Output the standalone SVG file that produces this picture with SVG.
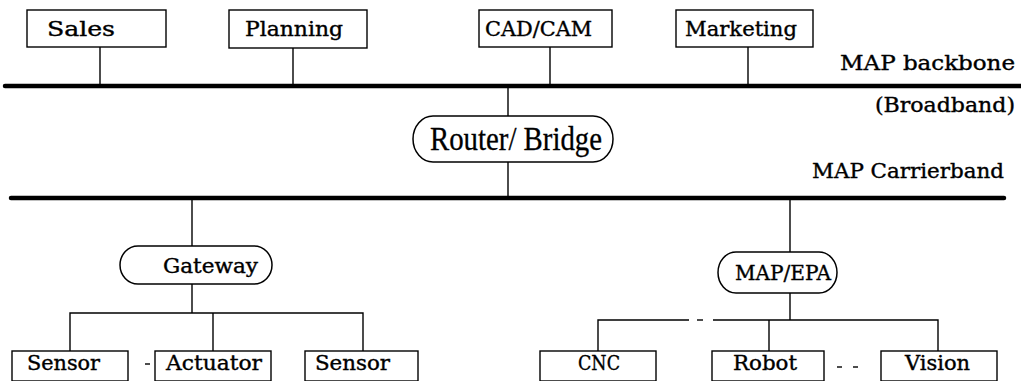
<svg xmlns="http://www.w3.org/2000/svg" width="1021" height="381" viewBox="0 0 1021 381">
<style>
.box{fill:#fff;stroke:#000;stroke-width:1.4}
.pill{fill:#fff;stroke:#000;stroke-width:1.5}
.ln{stroke:#000;stroke-width:1.4;fill:none}
.bus{stroke:#000;stroke-width:4.5;stroke-linecap:round;fill:none}
.t{font-family:"DejaVu Serif Condensed","DejaVu Serif","Liberation Serif",serif;font-size:20.5px;fill:#000;stroke:#000;stroke-width:0.35}
.r{font-family:"Liberation Serif","Times New Roman",serif;font-size:33px;fill:#000;stroke:#000;stroke-width:0.3}
</style>
<rect width="1021" height="381" fill="#fff"/>
<g id="connectors">
<line class="bus" x1="5" y1="86" x2="1025" y2="86"/>
<line class="bus" x1="11" y1="198" x2="1004" y2="198"/>
<line class="ln" x1="100" y1="47" x2="100" y2="86"/>
<line class="ln" x1="293" y1="48" x2="293" y2="86"/>
<line class="ln" x1="550" y1="47" x2="550" y2="86"/>
<line class="ln" x1="748" y1="47" x2="748" y2="86"/>
<line class="ln" x1="508" y1="86" x2="508" y2="116"/>
<line class="ln" x1="508" y1="162" x2="508" y2="198"/>
<line class="ln" x1="192" y1="198" x2="192" y2="246"/>
<line class="ln" x1="192" y1="284" x2="192" y2="313"/>
<polyline class="ln" points="70,351 70,313 363,313 363,351"/>
<line class="ln" x1="213" y1="313" x2="213" y2="351"/>
<line class="ln" x1="790" y1="198" x2="790" y2="252"/>
<line class="ln" x1="790" y1="293" x2="790" y2="320"/>
<polyline class="ln" points="598,351 598,320 689,320"/>
<line class="ln" x1="697" y1="320" x2="703" y2="320"/>
<polyline class="ln" points="713,320 938,320 938,351"/>
<line class="ln" x1="769" y1="320" x2="769" y2="351"/>
<line class="ln" x1="145" y1="364" x2="150" y2="364"/>
<line class="ln" x1="837" y1="367" x2="842" y2="367"/>
<line class="ln" x1="853" y1="367" x2="858" y2="367"/>
</g>
<g id="sales"><rect class="box" x="27" y="10" width="139" height="37"/><text class="t" x="47" y="36" textLength="68" lengthAdjust="spacingAndGlyphs">Sales</text></g>
<g id="planning"><rect class="box" x="229" y="10" width="138" height="38"/><text class="t" x="245" y="36" textLength="98" lengthAdjust="spacingAndGlyphs">Planning</text></g>
<g id="cadcam"><rect class="box" x="479" y="10" width="133" height="37"/><text class="t" x="485" y="36" textLength="107" lengthAdjust="spacingAndGlyphs">CAD/CAM</text></g>
<g id="marketing"><rect class="box" x="676" y="10" width="137" height="37"/><text class="t" x="685" y="36" textLength="112" lengthAdjust="spacingAndGlyphs">Marketing</text></g>
<g id="labels">
<text class="t" x="840" y="70" textLength="175" lengthAdjust="spacingAndGlyphs">MAP backbone</text>
<text class="t" x="875" y="112" textLength="140" lengthAdjust="spacingAndGlyphs">(Broadband)</text>
<text class="t" x="812" y="178" textLength="192" lengthAdjust="spacingAndGlyphs">MAP Carrierband</text>
</g>
<g id="router"><rect class="pill" x="413" y="116" width="200" height="46" rx="20" ry="23"/><text class="r" x="430" y="150" textLength="172" lengthAdjust="spacingAndGlyphs">Router/ Bridge</text></g>
<g id="gateway"><rect class="pill" x="120" y="246" width="152" height="38" rx="18" ry="19"/><text class="t" x="163" y="273" textLength="95" lengthAdjust="spacingAndGlyphs">Gateway</text></g>
<g id="mapepa"><rect class="pill" x="718" y="252" width="119" height="41" rx="18" ry="20.5"/><text class="t" x="735" y="280" textLength="96" lengthAdjust="spacingAndGlyphs">MAP/EPA</text></g>
<g id="sensor1"><rect class="box" x="12" y="351" width="116" height="30"/><text class="t" x="27" y="370" textLength="73" lengthAdjust="spacingAndGlyphs">Sensor</text></g>
<g id="actuator"><rect class="box" x="155" y="351" width="116" height="30"/><text class="t" x="166" y="370" textLength="96" lengthAdjust="spacingAndGlyphs">Actuator</text></g>
<g id="sensor2"><rect class="box" x="305" y="351" width="113" height="30"/><text class="t" x="315" y="370" textLength="75" lengthAdjust="spacingAndGlyphs">Sensor</text></g>
<g id="cnc"><rect class="box" x="540" y="351" width="116" height="30"/><text class="t" x="578" y="370" textLength="42" lengthAdjust="spacingAndGlyphs">CNC</text></g>
<g id="robot"><rect class="box" x="712" y="351" width="112" height="30"/><text class="t" x="733" y="370" textLength="64" lengthAdjust="spacingAndGlyphs">Robot</text></g>
<g id="vision"><rect class="box" x="881" y="351" width="116" height="30"/><text class="t" x="905" y="370" textLength="65" lengthAdjust="spacingAndGlyphs">Vision</text></g>
</svg>
